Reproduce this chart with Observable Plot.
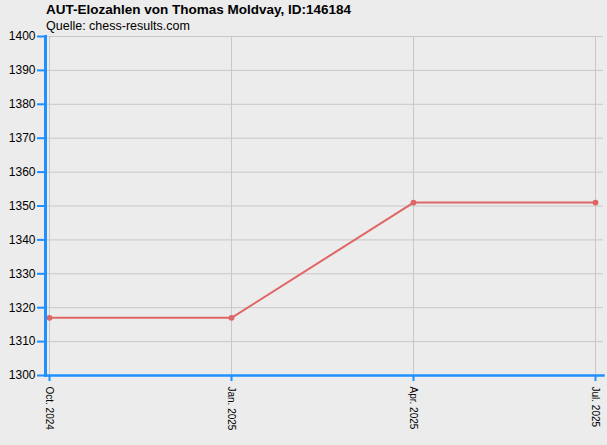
<!DOCTYPE html>
<html><head><meta charset="utf-8">
<script src="https://cdn.jsdelivr.net/npm/d3@7"></script>
<script src="https://cdn.jsdelivr.net/npm/@observablehq/plot@0.6"></script>
<style>
html,body{margin:0;padding:0;background:#ececec;}
#head{position:relative;height:34px;font-family:"Liberation Sans",Arial,sans-serif;}
#title{position:absolute;left:46px;top:2px;font-size:13.5px;font-weight:bold;color:#000;white-space:nowrap;}
#sub{position:absolute;left:46px;top:19px;font-size:12.5px;color:#000;white-space:nowrap;}
#chart svg{display:block}
</style></head><body>
<div id="head"><div id="title">AUT-Elozahlen von Thomas Moldvay, ID:146184</div><div id="sub">Quelle: chess-results.com</div></div>
<div id="chart"></div>
<script>
const months = ["Oct. 2024", "Jan. 2025", "Apr. 2025", "Jul. 2025"];
const elo = [1317, 1317, 1351, 1351];
const yTicks = [1300, 1310, 1320, 1330, 1340, 1350, 1360, 1370, 1380, 1390, 1400];

const blue = "#1E90FF";
const lineColor = "#e06666";
const data = months.map((m, i) => ({month: m, elo: elo[i]}));

const chart = Plot.plot({
  width: 607, height: 411,
  marginTop: 2, marginBottom: 70, marginLeft: 45, marginRight: 4,
  style: {background: "#ececec", fontFamily: "'Liberation Sans', Arial, sans-serif", fontSize: "12px", color: "#000", overflow: "visible"},
  x: {type: "point", domain: months, padding: 0, insetLeft: 4, insetRight: 8, label: null},
  y: {domain: [1300, 1400], label: null},
  marks: [
    Plot.gridY(yTicks, {stroke: "#c8c8c8", strokeOpacity: 1}),
    Plot.gridX(months, {stroke: "#c8c8c8", strokeOpacity: 1}),
    Plot.line(data, {x: "month", y: "elo", stroke: lineColor, strokeWidth: 2}),
    Plot.dot(data, {x: "month", y: "elo", r: 2.2, fill: lineColor, stroke: lineColor}),
    Plot.axisY(yTicks, {tickSize: 8, stroke: blue, strokeWidth: 2, tickPadding: 2, fill: "#000", fontSize: 12, label: null, tickFormat: d => String(d)}),
    Plot.axisX(months, {tickSize: 6, stroke: blue, strokeWidth: 2, tickRotate: 90, tickPadding: 5, fontSize: 10, fill: "#000", label: null}),
    Plot.frame({anchor: "left", stroke: blue, strokeWidth: 3}),
    Plot.frame({anchor: "bottom", stroke: blue, strokeWidth: 2.5})
  ]
});
document.getElementById("chart").appendChild(chart);
</script>
</body></html>
